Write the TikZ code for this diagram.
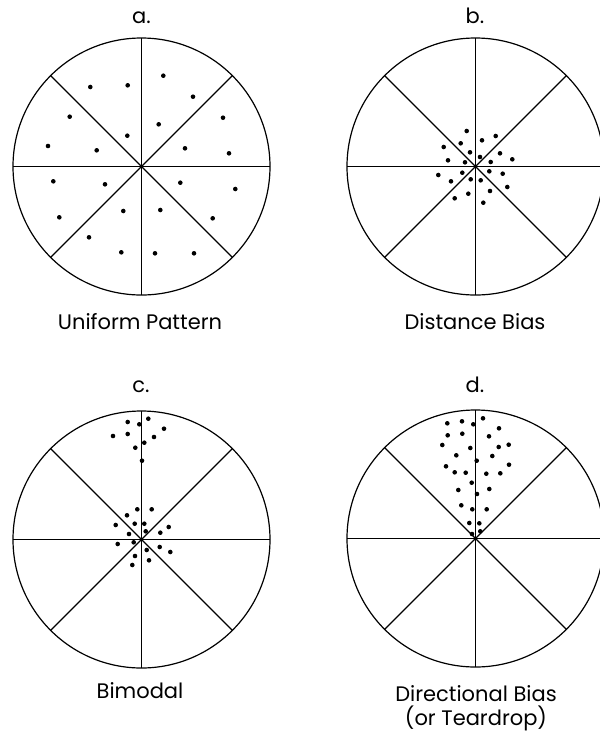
\documentclass[tikz,border=0pt]{standalone}
\usepackage{fontspec}
\setmainfont{Poppins}
\usetikzlibrary{calc}
\begin{document}
\begin{tikzpicture}[x=1pt,y=-1pt,
  rim/.style={line width=1.2pt,black},
  spoke/.style={line width=1.2pt,black},
  dot/.style={fill=black},
  lbl/.style={font=\fontsize{21}{24}\selectfont,inner sep=0pt,anchor=base},
  title/.style={font=\fontsize{21}{24}\selectfont,inner sep=0pt,anchor=base}]
\useasboundingbox (0,0) rectangle (600,732);
\fill[white] (0,0) rectangle (600,732);
% circles with 8 sectors
\foreach \cx/\cy in {141.5/166.5, 475.5/166.5, 141.5/539.5, 475.5/538.5}{
  \draw[rim] (\cx,\cy) circle[radius=128.5];
  \foreach \a in {0,45,90,135}{
    \draw[spoke] ($(\cx,\cy)+(\a:128.5)$) -- ($(\cx,\cy)+(\a+180:128.5)$);
  }
}
% titles
\node[title] (ta) at (141.5,23.5) {a.};
\node[title] (tb) at (475,23.5) {b.};
\node[title] (tc) at (141,392.5) {c.};
\node[title] (td) at (475,392.5) {d.};
% captions
\node[lbl] (la) at (140,329) {Uniform Pattern};
\node[lbl] (lb) at (475,329) {Distance Bias};
\node[lbl] (lc) at (140,698) {Bimodal};
\node[lbl] (ld) at (476,701) {Directional Bias};
\node[lbl] (ld2) at (476,725) {(or Teardrop)};
% dots a
\foreach \x/\y in {163.3/75.7,127.7/85.3,90.3/87,193/96.7,69.7/116.7,223/117.7,158.7/124.3,127.3/135.7,48/146,185/148.3,96.7/150.3,229/153.3,53.3/181.3,105/184.3,180.3/182.7,235.3/189,123.3/211,160.3/210,59.3/217.3,212.7/218.3,89/237.3,121.3/252.3,155/253.3,194/253.3}
  \fill[dot] (\x,\y) circle[radius=2.3];
% dots b
\foreach \x/\y in {466.7/131,495.7/136,482/140.3,460.7/143.3,443.7/147,470/152.3,500/153.3,480/157,448/160.3,512.3/159.3,490.7/162,465/162.3,489.3/171.3,462.3/172.7,502.7/173.7,438.3/175,470.7/179.3,480.7/180.3,451/181.3,507.3/187,490/191,468.3/193.7,454.7/198.3,483.3/202.7}
  \fill[dot] (\x,\y) circle[radius=2.3];
% dots c
\foreach \x/\y in {148.3/418.7,127.7/422,139.3/424.3,164/428.7,113/436,127.7/434,154/437,144.3/442.7,135.3/447.7,142/460.7,137.3/509.3,151.7/509.3,127/515.3,134.7/523.7,144.3/523.7,115.7/525,168.7/527,145.7/531.3,160.3/532.7,129/534,133.7/542.3,117.7/544,159.7/547,146.7/550,170.3/552,135/556,149/560.3,132.3/565}
  \fill[dot] (\x,\y) circle[radius=2.3];
% dots d
\foreach \x/\y in {483/418.3,462/421.3,447.3/423.3,473.3/424.3,499/428.3,462.3/433.7,447.7/435.3,489/436.3,442.3/445,508.7/444.7,498.7/447,470.3/448,456.3/455.3,492.3/456,476.7/460.7,509/464.7,446/466.3,454.7/472.3,465.7/472.7,486.3/473.7,500.3/473.3,471.7/482.7,458.3/490,489.3/489,477/494,461.3/505.3,472.3/509.3,486.7/509.3,469.3/523,479.3/523.3,472/534,480.3/531.3}
  \fill[dot] (\x,\y) circle[radius=2.3];
\end{tikzpicture}
\end{document}
